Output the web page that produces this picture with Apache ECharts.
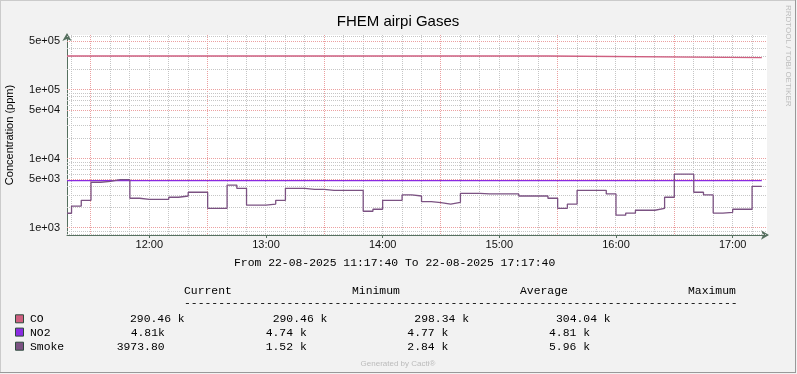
<!DOCTYPE html>
<html><head><meta charset="utf-8">
<script src="https://cdn.jsdelivr.net/npm/echarts@6/dist/echarts.min.js"></script>
<style>html,body{margin:0;padding:0;background:#F2F2F2}#c{width:797px;height:374px}</style>
</head><body><div id="c"></div>
<script>
// ---------------- data ----------------
const chartTitle = 'FHEM airpi Gases';
const yAxisTitle = 'Concentration (ppm)';
const startTime = '11:17:40';
const endTime = '17:17:40';
const holdEnd = '17:15';

// Smoke: 5-minute steps (first slot starts at graph start)
const smokeValues = [1620, 2060, 2490, 4550, 4700, 4960, 4960, 2670, 2580, 2580, 2580, 2760, 2880, 3260, 3260,
  1910, 1910, 4150, 3720, 2130, 2130, 2200, 2490, 3720, 3720, 3600, 3600, 3480, 3480, 3480, 3480,
  1730, 1850, 2490, 2490, 2980, 2880, 2380, 2300, 2200, 2330, 3150, 3150, 3080, 3080, 3080, 3080,
  2880, 2880, 2880, 2670, 1910, 2200, 3480, 3480, 3480, 3080, 1520, 1630, 1790, 1790, 1910, 2760,
  5960, 5960, 3260, 2980, 1630, 1670, 1850, 1850, 3974];
const coTimes = ['11:17:40', '15:25', '17:15'];
const coValues = [306700, 290460, 290460];
const no2Times = ['11:17:40', '17:15'];
const no2Values = [4810, 4810];

const yMin = 784, yMax = 618000;
const yMajorValues = [1000, 5000, 10000, 50000, 100000, 500000];
const yTickLabels = ['1e+03', '5e+03', '1e+04', '5e+04', '1e+05', '5e+05'];
const yMinorValues = [800, 900, 2000, 3000, 4000, 6000, 7000, 8000, 9000, 20000, 30000, 40000,
  60000, 70000, 80000, 90000, 200000, 300000, 400000, 600000];

const seriesNames = ['CO', 'NO2', 'Smoke'];
const seriesColors = ['#CF5F80', '#8A2BE2', '#7B5282'];
const legendHeaders = ['Current', 'Minimum', 'Average', 'Maximum'];
const legendCol1 = ['290.46 k', '4.81k', '3973.80'];
const legendCol2 = ['290.46 k', '4.74 k', '1.52 k'];
const legendCol3 = ['298.34 k', '4.77 k', '2.84 k'];
const legendCol4 = ['304.04 k', '4.81 k', '5.96 k'];
const periodText = 'From 22-08-2025 11:17:40 To 22-08-2025 17:17:40';
const footerText = 'Generated by Cacti®';
const sideText = 'RRDTOOL / TOBI OETIKER';

// ---------------- helpers ----------------
function t(hms) {
  const p = hms.split(':').map(Number);
  return new Date(2025, 7, 22, p[0], p[1], p[2] || 0).getTime();
}
function hm(m) {
  const h = Math.floor(m / 60), mm = m % 60;
  return String(h).padStart(2, '0') + ':' + String(mm).padStart(2, '0');
}
const smokeTimes = [startTime];
for (let m = 11 * 60 + 20; m <= 17 * 60 + 10; m += 5) smokeTimes.push(hm(m));
const smokeData = smokeTimes.map((s, i) => [t(s), smokeValues[i]]);
smokeData.push([t(holdEnd), smokeValues[smokeValues.length - 1]]);
const coData = coTimes.map((s, i) => [t(s), coValues[i]]);
const no2Data = no2Times.map((s, i) => [t(s), no2Values[i]]);

const axisColor = '#56705F';
const minorColor = '#C6C6C6';
const majorColor = '#EBA0A0';
const tMin = t(startTime), tMax = t(endTime);

// horizontal grid (markLine through the axes)
const gridLines = [];
yMinorValues.forEach(v => gridLines.push([
  { coord: [tMin, v], lineStyle: { color: minorColor, type: [1, 1], width: 1 }, label: { show: false } },
  { coord: [tMax, v] }
]));
yMajorValues.forEach((v, i) => gridLines.push([
  { coord: [tMin, v], lineStyle: { color: majorColor, type: [1, 1], width: 1 },
    label: { show: true, position: 'start', distance: 7, formatter: yTickLabels[i], color: '#111', fontFamily: 'Liberation Sans', fontSize: 11 } },
  { coord: [tMax, v] }
]));
// vertical grid every 10 minutes, major at :30
const vGridData = [];
for (let m = 11 * 60 + 20; m <= 17 * 60 + 10; m += 10) {
  vGridData.push([t(hm(m)), yMin, (m % 60) === 30 ? 1 : 0]);
}

function txt(x, y, text, font, color, align, rot) {
  return { type: 'text', x: x, y: y, rotation: rot || 0, silent: true,
    style: { text: text, font: font, fill: color, align: align, textAlign: align, verticalAlign: 'middle', textVerticalAlign: 'middle' } };
}
const mono = '11.4px "Liberation Mono"';
const graphics = [];
graphics.push({ type: 'line', silent: true, shape: { x1: 0, y1: 0.5, x2: 796, y2: 0.5 }, style: { stroke: '#CBCBCB', lineWidth: 1 } });
graphics.push({ type: 'line', silent: true, shape: { x1: 0.5, y1: 0, x2: 0.5, y2: 373 }, style: { stroke: '#CBCBCB', lineWidth: 1 } });
graphics.push({ type: 'line', silent: true, shape: { x1: 0, y1: 372.5, x2: 796, y2: 372.5 }, style: { stroke: '#999999', lineWidth: 1 } });
graphics.push({ type: 'line', silent: true, shape: { x1: 795.5, y1: 0, x2: 795.5, y2: 373 }, style: { stroke: '#999999', lineWidth: 1 } });
graphics.push(txt(398, 22, chartTitle, '15px "Liberation Sans"', '#000', 'center'));
graphics.push(txt(10, 135, yAxisTitle, '11px "Liberation Sans"', '#000', 'center', Math.PI / 2));
graphics.push(txt(788, 5, sideText, '8px "Liberation Sans"', '#BDBDBD', 'left', -Math.PI / 2));
graphics.push(txt(234, 262.5, periodText, mono, '#000', 'left'));
const headerX = [184, 352, 520, 688];
legendHeaders.forEach((h, i) => graphics.push(txt(headerX[i], 291, h, mono, '#000', 'left')));
graphics.push(txt(184, 303, '-'.repeat(81), mono, '#000', 'left'));
const rowY = [319.3, 332.6, 346.7];
const colX = [[130, 272.7, 414.3, 556], [130.7, 265.7, 407.3, 549], [116.7, 265.7, 407.3, 549]];
const cols = [legendCol1, legendCol2, legendCol3, legendCol4];
seriesNames.forEach((n, r) => {
  graphics.push({ type: 'rect', silent: true, shape: { x: 15.5, y: rowY[r] - 4.5, width: 8, height: 8 },
    style: { fill: seriesColors[r], stroke: '#2D4A3C', lineWidth: 1 } });
  graphics.push(txt(30, rowY[r], n, mono, '#000', 'left'));
  cols.forEach((c, j) => graphics.push(txt(colX[r][j], rowY[r], c[r], mono, '#000', 'left')));
});
graphics.push(txt(398, 363.5, footerText, '8px "Liberation Sans"', '#BBBBBB', 'center'));

function lineSeries(name, data, color, extra) {
  return Object.assign({
    name: name, type: 'line', step: 'end', data: data, showSymbol: false, symbol: 'none', z: 10,
    lineStyle: { color: color, width: 1.3 }, itemStyle: { color: color }, silent: true
  }, extra || {});
}

const option = {
  animation: false,
  backgroundColor: '#F2F2F2',
  grid: { left: 67, top: 35, width: 700, height: 200, show: true, backgroundColor: '#FFFFFF', borderWidth: 0 },
  xAxis: {
    type: 'time', min: tMin, max: tMax, minInterval: 3600000, maxInterval: 3600000,
    splitLine: { show: false },
    axisLine: { show: true, onZero: false, lineStyle: { color: axisColor, width: 1 }, symbol: ['none', 'arrow'], symbolSize: [7, 8], symbolOffset: [0, 2] },
    axisTick: { show: true, length: 3, lineStyle: { color: axisColor } },
    axisLabel: { show: true, margin: 4, color: '#111', fontFamily: 'Liberation Sans', fontSize: 11, showMinLabel: false, showMaxLabel: false,
      formatter: function (v) { const d = new Date(v); return String(d.getHours()).padStart(2, '0') + ':' + String(d.getMinutes()).padStart(2, '0'); } }
  },
  yAxis: {
    type: 'log', logBase: 10, min: yMin, max: yMax,
    splitLine: { show: false }, axisLabel: { show: false }, axisTick: { show: false },
    axisLine: { show: true, lineStyle: { color: axisColor, width: 1 }, symbol: ['none', 'arrow'], symbolSize: [7, 8], symbolOffset: [0, 2] }
  },
  series: [
    {
      type: 'custom', name: 'vgrid', data: vGridData, z: 4, silent: true, clip: false,
      encode: { x: 0, y: 1 },
      renderItem: function (params, api) {
        const tv = api.value(0);
        const p1 = api.coord([tv, yMin]);
        const p2 = api.coord([tv, yMax]);
        const x = Math.floor(p1[0]) + 0.5;
        return { type: 'line', silent: true,
          shape: { x1: x, y1: Math.round(p1[1]), x2: x, y2: Math.round(p2[1]) },
          style: { stroke: api.value(2) ? majorColor : minorColor, lineWidth: 1, lineDash: [1, 1], lineDashOffset: 1 } };
      }
    },
    lineSeries(seriesNames[0], coData, seriesColors[0]),
    lineSeries(seriesNames[1], no2Data, seriesColors[1], {
      markLine: { silent: true, symbol: ['none', 'none'], animation: false, data: gridLines }
    }),
    lineSeries(seriesNames[2], smokeData, seriesColors[2])
  ],
  graphic: graphics
};
const chart = echarts.init(document.getElementById('c'), null, { renderer: 'canvas' });
chart.setOption(option);
</script></body></html>
